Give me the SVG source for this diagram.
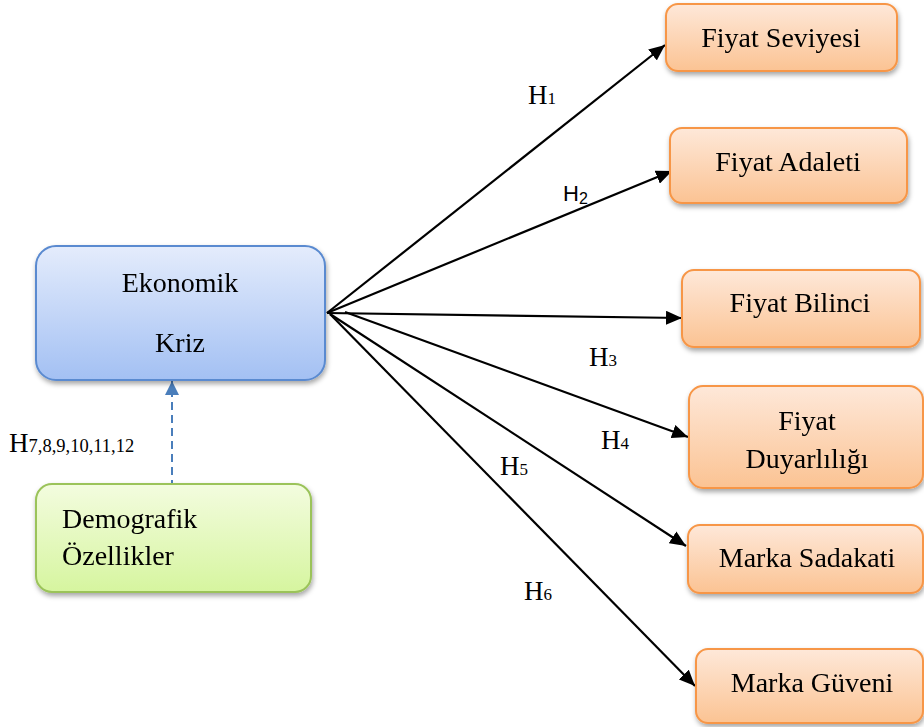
<svg xmlns="http://www.w3.org/2000/svg" width="924" height="727" viewBox="0 0 924 727">
<defs>
<linearGradient id="gBlue" x1="0" y1="0" x2="0" y2="1"><stop offset="0" stop-color="#e4ecfc"/><stop offset="1" stop-color="#a3c0f3"/></linearGradient>
<linearGradient id="gGreen" x1="0" y1="0" x2="0" y2="1"><stop offset="0" stop-color="#f3fcdf"/><stop offset="1" stop-color="#d6f59f"/></linearGradient>
<linearGradient id="gOrange" x1="0" y1="0" x2="0" y2="1"><stop offset="0" stop-color="#fee8d9"/><stop offset="1" stop-color="#fbc393"/></linearGradient>
<filter id="sh" x="-10%" y="-10%" width="125%" height="130%"><feDropShadow dx="1" dy="3" stdDeviation="2.5" flood-color="#000" flood-opacity="0.35"/></filter>
<marker id="ah" markerWidth="16" markerHeight="14" refX="16" refY="7" orient="auto" markerUnits="userSpaceOnUse"><path d="M0,0 L16,7 L0,14 z" fill="#000"/></marker>
<marker id="ahb" markerWidth="14" markerHeight="14" refX="14" refY="7" orient="auto" markerUnits="userSpaceOnUse"><path d="M0,0 L14,7 L0,14 z" fill="#4a7ebb"/></marker>
</defs>
<style>
.t{font-family:"Liberation Serif","DejaVu Serif",serif;font-size:28px;fill:#000;text-anchor:middle}
.tl{font-family:"Liberation Serif","DejaVu Serif",serif;font-size:28px;fill:#000}
.h{font-family:"Liberation Serif","DejaVu Serif",serif;font-size:27px;fill:#000}
.s{font-size:17px}
.or{fill:url(#gOrange);stroke:#f79646;stroke-width:2}
.ln{stroke:#000;stroke-width:2.2;fill:none;marker-end:url(#ah)}
</style>
<g id="connectors">
<line class="ln" x1="327" y1="313" x2="665" y2="45"/>
<line class="ln" x1="327" y1="313" x2="672" y2="171"/>
<line class="ln" x1="327" y1="313" x2="682" y2="318"/>
<line class="ln" x1="345" y1="312" x2="688" y2="437"/>
<line class="ln" x1="330" y1="314" x2="686" y2="546"/>
<line class="ln" x1="330" y1="314" x2="695" y2="686"/>
<line x1="172" y1="488" x2="172" y2="381" stroke="#4a7ebb" stroke-width="2" stroke-dasharray="8,5" marker-end="url(#ahb)"/>
</g>
<g id="labels">
<text class="h" x="528" y="104">H<tspan class="s">1</tspan></text>
<text x="563" y="201" font-family="Liberation Sans, Arial, sans-serif" font-size="22">H<tspan font-size="16" dy="3">2</tspan></text>
<text class="h" x="589" y="366">H<tspan class="s">3</tspan></text>
<text class="h" x="601" y="449">H<tspan class="s">4</tspan></text>
<text class="h" x="500" y="475">H<tspan class="s">5</tspan></text>
<text class="h" x="524" y="600">H<tspan class="s">6</tspan></text>
<text class="h" x="9" y="452">H<tspan font-size="18.5">7,8,9,10,11,12</tspan></text>
</g>
<g id="ekonomik-kriz" filter="url(#sh)">
<rect x="36" y="246" width="289" height="134" rx="20" fill="url(#gBlue)" stroke="#5a8ad0" stroke-width="2"/>
<text class="t" x="180" y="292">Ekonomik</text>
<text class="t" x="180" y="352">Kriz</text>
</g>
<g id="demografik" filter="url(#sh)">
<rect x="36" y="484" width="275" height="108" rx="16" fill="url(#gGreen)" stroke="#9bc35a" stroke-width="2"/>
<text class="tl" x="62" y="528">Demografik</text>
<text class="tl" x="62" y="565">Özellikler</text>
</g>
<g id="fiyat-seviyesi" filter="url(#sh)">
<rect class="or" x="666" y="4" width="231" height="67" rx="12"/>
<text class="t" x="781" y="47">Fiyat Seviyesi</text>
</g>
<g id="fiyat-adaleti" filter="url(#sh)">
<rect class="or" x="670" y="128" width="237" height="75" rx="12"/>
<text class="t" x="788" y="171">Fiyat Adaleti</text>
</g>
<g id="fiyat-bilinci" filter="url(#sh)">
<rect class="or" x="682" y="270" width="238" height="77" rx="12"/>
<text class="t" x="800" y="312">Fiyat Bilinci</text>
</g>
<g id="fiyat-duyarliligi" filter="url(#sh)">
<rect class="or" x="689" y="386" width="234" height="102" rx="14"/>
<text class="t" x="807" y="430">Fiyat</text>
<text class="t" x="807" y="468">Duyarlılığı</text>
</g>
<g id="marka-sadakati" filter="url(#sh)">
<rect class="or" x="688" y="525" width="235" height="68" rx="12"/>
<text class="t" x="807" y="567">Marka Sadakati</text>
</g>
<g id="marka-guveni" filter="url(#sh)">
<rect class="or" x="696" y="649" width="227" height="74" rx="12"/>
<text class="t" x="812" y="692">Marka Güveni</text>
</g>
</svg>
